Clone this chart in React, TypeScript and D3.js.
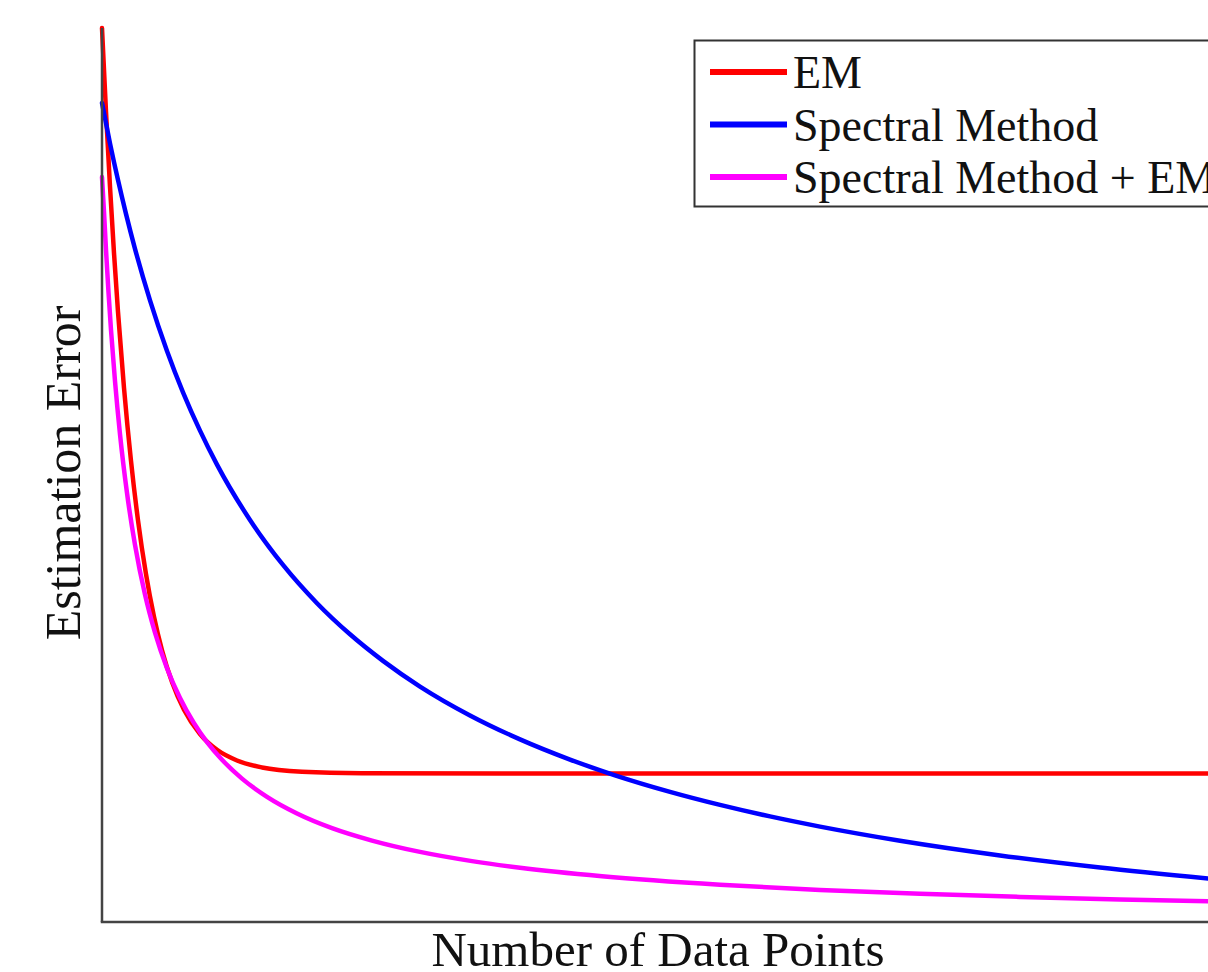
import React from "react";
import * as d3 from "d3";

// Abstract units: x = number of data points (0..1000), y = estimation error (0..10)
const emX = [0, 3.6, 7.19, 10.79, 14.39, 19.78, 26.08, 32.37, 39.57, 46.76, 53.96, 62.95, 73.74, 88.13, 103.42, 121.41, 143.89, 179.86, 233.82, 359.72, 1000];
const emY = [10.0, 9.062, 8.225, 7.483, 6.825, 5.975, 5.158, 4.494, 3.89, 3.414, 3.04, 2.684, 2.374, 2.102, 1.926, 1.807, 1.729, 1.682, 1.665, 1.661, 1.661];

const spX = [0, 7.19, 14.39, 21.58, 29.68, 43.17, 58.45, 72.84, 88.13, 103.42, 133.1, 162.77, 193.35, 223.03, 252.7, 285.98, 330.94, 375.91, 420.87, 461.34, 510.8, 555.77, 600.73, 645.7, 717.64, 807.57, 897.5, 1000];
const spY = [9.161, 8.71, 8.299, 7.921, 7.53, 6.953, 6.387, 5.925, 5.496, 5.116, 4.497, 3.994, 3.566, 3.218, 2.921, 2.634, 2.311, 2.043, 1.817, 1.641, 1.456, 1.31, 1.181, 1.067, 0.909, 0.745, 0.61, 0.48];

const spemX = [0, 1.8, 3.6, 5.85, 8.09, 11.69, 16.19, 22.48, 29.68, 38.67, 47.66, 58.45, 70.15, 82.74, 94.43, 107.92, 125.9, 148.38, 175.36, 206.84, 242.81, 285.98, 332.74, 375.91, 449.65, 555.77, 645.7, 735.63, 825.56, 915.49, 1000];
const spemY = [8.333, 7.944, 7.517, 7.043, 6.624, 6.05, 5.457, 4.8, 4.218, 3.662, 3.236, 2.839, 2.506, 2.224, 2.013, 1.815, 1.604, 1.4, 1.214, 1.05, 0.911, 0.784, 0.681, 0.607, 0.512, 0.417, 0.359, 0.315, 0.281, 0.253, 0.232];

const seriesNames = ["EM", "Spectral Method", "Spectral Method + EM"];
const seriesColors = ["#ff0000", "#0000ff", "#ff00ff"];

const xLabel = "Number of Data Points";
const yLabel = "Estimation Error";

const W = 1208;
const H = 972;
const FONT = "'Liberation Serif', 'Times New Roman', Times, serif";

export default function App() {
  const x = d3.scaleLinear().domain([0, 1000]).range([102, 1214]);
  const y = d3.scaleLinear().domain([0, 10]).range([922, 28]);

  const line = d3
    .line<[number, number]>()
    .x((d) => x(d[0]))
    .y((d) => y(d[1]))
    .curve(d3.curveMonotoneX);

  const series = [
    { xs: emX, ys: emY },
    { xs: spX, ys: spY },
    { xs: spemX, ys: spemY },
  ].map((s, i) => ({
    name: seriesNames[i],
    color: seriesColors[i],
    pts: s.xs.map((v, j) => [v, s.ys[j]] as [number, number]),
  }));

  const legendX = 694.5;
  const legendY = 40.5;
  const rowGap = 52.5;

  return (
    <svg
      width={W}
      height={H}
      style={{ position: "absolute", left: 0, top: 0, background: "#fff" }}
      fontFamily={FONT}
    >
      <rect x={0} y={0} width={W} height={H} fill="#fff" />
      {series.map((s) => (
        <path
          key={s.name}
          d={line(s.pts) || ""}
          fill="none"
          stroke={s.color}
          strokeWidth={4.5}
          strokeLinejoin="round"
          strokeLinecap="round"
        />
      ))}
      {/* axes */}
      <line x1={x(0)} x2={x(0)} y1={y(10)} y2={y(0)} stroke="#444" strokeWidth={2.5} />
      <line x1={x(0) - 1.25} x2={x(1000)} y1={y(0)} y2={y(0)} stroke="#444" strokeWidth={2.5} />

      {/* legend */}
      <rect
        x={legendX}
        y={legendY}
        width={540}
        height={166}
        fill="#fff"
        stroke="#333"
        strokeWidth={2}
      />
      {series.map((s, i) => (
        <g key={s.name} transform={`translate(0, ${72 + i * rowGap})`}>
          <line x1={710} x2={787} y1={0} y2={0} stroke={s.color} strokeWidth={6} />
          <text x={793} y={16.3} fontSize={46} fill="#111">
            {s.name}
          </text>
        </g>
      ))}

      {/* axis labels */}
      <text x={658} y={966} fontSize={49} textAnchor="middle" fill="#111">
        {xLabel}
      </text>
      <text
        transform={`translate(80, 473) rotate(-90)`}
        fontSize={50}
        textAnchor="middle"
        fill="#111"
      >
        {yLabel}
      </text>
    </svg>
  );
}
